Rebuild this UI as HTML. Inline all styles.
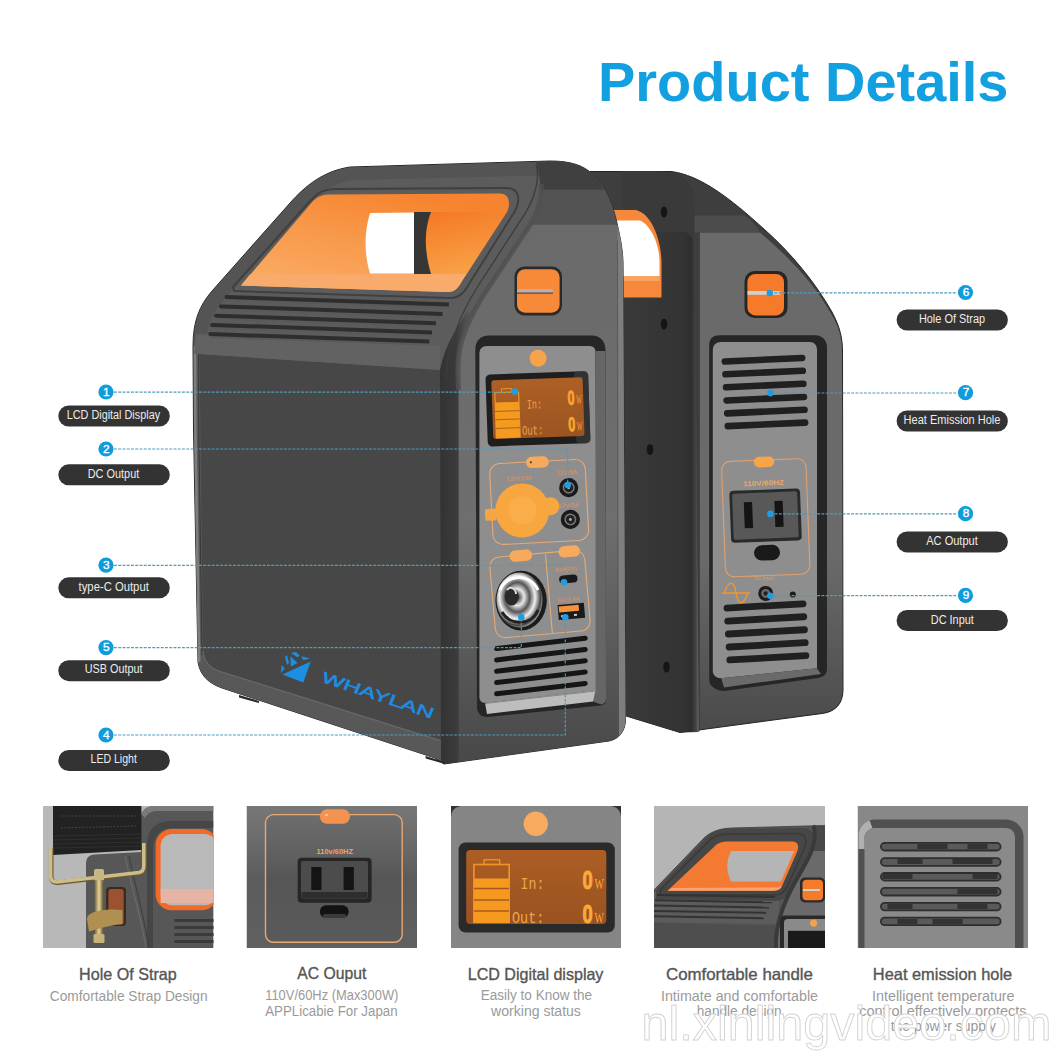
<!DOCTYPE html>
<html><head><meta charset="utf-8">
<style>
html,body{margin:0;padding:0;background:#fff;width:1060px;height:1060px;overflow:hidden}
svg{display:block;position:absolute;left:0;top:0}
text{font-family:"Liberation Sans",sans-serif}
</style></head>
<body>
<svg width="1060" height="1060" viewBox="0 0 1060 1060">
<rect width="1060" height="1060" fill="#fff"/>
<!-- TITLE -->
<text x="598" y="101.4" font-size="56" font-weight="bold" fill="#12a0e0" textLength="410.5" lengthAdjust="spacingAndGlyphs">Product Details</text>

<defs>
  <linearGradient id="og" x1="0" y1="1" x2="0.6" y2="0">
    <stop offset="0" stop-color="#fbb06a"/><stop offset="0.55" stop-color="#f89a4c"/><stop offset="1" stop-color="#f6842f"/>
  </linearGradient>
  <linearGradient id="cyl" x1="0" y1="0" x2="0.3" y2="1">
    <stop offset="0" stop-color="#f47826"/><stop offset="1" stop-color="#f9a044"/>
  </linearGradient>
  <linearGradient id="ffg" x1="0" y1="0" x2="0" y2="1">
    <stop offset="0" stop-color="#6a6a6a"/><stop offset="0.55" stop-color="#6e6e6e"/><stop offset="1" stop-color="#484848"/>
  </linearGradient>
  <linearGradient id="bfg" x1="0" y1="0" x2="0" y2="1">
    <stop offset="0" stop-color="#6a6a6a"/><stop offset="0.65" stop-color="#6a6a6a"/><stop offset="1" stop-color="#4a4a4a"/>
  </linearGradient>
  <linearGradient id="corner" x1="0" y1="0" x2="1" y2="0">
    <stop offset="0" stop-color="#333"/><stop offset="0.45" stop-color="#3a3a3a"/><stop offset="1" stop-color="#626262"/>
  </linearGradient>
  <linearGradient id="bcorner" x1="0" y1="0" x2="1" y2="0">
    <stop offset="0" stop-color="#3a3a3a"/><stop offset="0.8" stop-color="#333"/><stop offset="0.9" stop-color="#2e2e2e"/><stop offset="0.96" stop-color="#444"/><stop offset="1" stop-color="#6a6a6a"/>
  </linearGradient>
  <linearGradient id="lcdg" x1="0" y1="0" x2="0" y2="1">
    <stop offset="0" stop-color="#ad6026"/><stop offset="1" stop-color="#9c5420"/>
  </linearGradient>
  <radialGradient id="chrome" cx="0.45" cy="0.45" r="0.6">
    <stop offset="0" stop-color="#222"/><stop offset="0.25" stop-color="#e8e8e8"/><stop offset="0.45" stop-color="#555"/><stop offset="0.65" stop-color="#f0f0f0"/><stop offset="0.85" stop-color="#444"/><stop offset="1" stop-color="#cfcfcf"/>
  </radialGradient>
</defs>

<!-- ============ BACK UNIT ============ -->
<g id="back">
  <path d="M575,171.5 L671,171.5 C700,175 730,198 765,230 C790,252 815,282 832,312 C840,327 842.5,338 842.5,352 L843,690 C843,704 835,712 822,713.5 L680,732.5 L626,716 L575,716 Z" fill="#3e3e3e" stroke="#262626" stroke-width="1"/>
  <!-- front face -->
  <path d="M699,232.5 L760,232.5 C790,258 815,285 830,312 C839,326 842,338 842,352 L842.5,690 C842.5,703 835,711 822,712.5 L682,731.5 L699,727 Z" fill="url(#bfg)"/>
  <path d="M694,215.5 L745,215.5 C752,221 756,226 760,232.5 L694,232.5 Z" fill="#4c4c4c"/>
  <!-- side face -->
  <path d="M622,171.5 L660,171.5 C676,172 690,178 694,196 L699,732 L680,732.5 L626,716 L622,716 Z" fill="url(#bcorner)"/>
  <path d="M622,171.5 L660,171.5 C676,172 690,178 694,196 L694.5,240 L686,232 L622,232 Z" fill="#3a3a3a"/>
  <line x1="699.3" y1="232" x2="699.3" y2="731" stroke="#3a3a3a" stroke-width="1"/>
  <!-- handle visible through side -->
  <path d="M612,210 L636,210 C652,214 661,240 661.5,262 L661.5,297.5 L612,297.5 Z" fill="#f5883a"/>
  <path d="M612,220.5 L640,220.5 C652,226 659.5,246 659.5,262 L659.5,276 L612,276 Z" fill="#ffffff"/>
  <path d="M612,276 L659.5,276 L659.5,281 L612,281 Z" fill="#f9a45e"/>
  <g fill="#151515">
    <ellipse cx="664" cy="212" rx="3.3" ry="5.5"/>
    <ellipse cx="664" cy="324" rx="3.3" ry="5.5"/>
    <ellipse cx="650" cy="449.5" rx="3.3" ry="5.5"/>
    <ellipse cx="666.5" cy="667" rx="3.3" ry="5.5"/>
  </g>
  <!-- strap hole -->
  <rect x="744.5" y="271" width="43" height="47" rx="10" fill="#262626"/>
  <rect x="747.4" y="274" width="36.6" height="41.4" rx="8" fill="#f57a2a"/>
  <rect x="747.5" y="291" width="33" height="3.8" fill="#d0d0d0"/>
  <!-- panel frame -->
  <path d="M709.2,345 C709.2,339 713,335.3 719,335.3 L815,335.3 C822,335.3 827,340 827,348 L827,668 C827,674 824,677 818,678 L724,691 C716,691 709.2,686 709.2,680 Z" fill="#262626"/>
  <path d="M712.8,350 C712.8,345 716,342 721,342 L810,342 C814,342 817,345 817,350 L817,668.3 L721.2,678.2 C716,678.2 712.8,675 712.8,671 Z" fill="#8e8e8e"/>
  <path d="M721.2,678.2 L817,668.3 L821,674 L724,687.4 Z" fill="#6a6a6a"/>
  <!-- vents top -->
  <g fill="#202020" transform="rotate(-2.6 765 392)">
    <rect x="723" y="356.4" width="84" height="6.6" rx="3.3"/>
    <rect x="723" y="369.2" width="84" height="6.6" rx="3.3"/>
    <rect x="723" y="382.2" width="84" height="6.6" rx="3.3"/>
    <rect x="723" y="395.4" width="84" height="6.6" rx="3.3"/>
    <rect x="723" y="408.3" width="84" height="6.6" rx="3.3"/>
    <rect x="723" y="421.1" width="84" height="6.6" rx="3.3"/>
  </g>
  <!-- AC section -->
  <g transform="rotate(-2.2 766 518)">
  <rect x="723.5" y="460" width="84.5" height="115.5" rx="9" fill="none" stroke="#e0a070" stroke-width="1.1"/>
  <rect x="756" y="456.6" width="20.3" height="10.6" rx="5.3" fill="#f8a448"/>
  <text x="744.4" y="485.5" font-size="7" font-weight="bold" fill="#e8a868" textLength="41" lengthAdjust="spacingAndGlyphs">110V/60HZ</text>
  <rect x="730.3" y="489.6" width="70.7" height="52" rx="4" fill="#2a2a2a"/>
  <rect x="733" y="492.5" width="65" height="46" rx="2" fill="#585858"/>
  <rect x="744.4" y="501.4" width="8.3" height="26" fill="#141414"/>
  <rect x="775" y="501.4" width="8.3" height="26" fill="#141414"/>
  <rect x="752.7" y="545" width="26" height="15.4" rx="7.7" fill="#1a1a1a"/>
  </g>
  <text x="753.9" y="580" font-size="5" fill="#e09a60">DC input</text>
  <path d="M724,594 C728,580 734,580 736,593 C738,606 744,606 748,592 M722,593 L750,593" fill="none" stroke="#f0962e" stroke-width="1.5"/>
  <circle cx="765.7" cy="593.4" r="7.5" fill="#1c1c1c"/>
  <circle cx="765.7" cy="593.4" r="4.5" fill="#6a6a6a"/>
  <circle cx="765.7" cy="593.4" r="2.2" fill="#222"/>
  <circle cx="792.8" cy="594.6" r="3" fill="#1c1c1c"/>
  <g fill="#202020" transform="rotate(-3.2 766 633)">
    <rect x="725" y="602.5" width="83" height="6.8" rx="3.4"/>
    <rect x="725" y="615.5" width="83" height="6.8" rx="3.4"/>
    <rect x="725" y="628.5" width="83" height="6.8" rx="3.4"/>
    <rect x="725" y="641.5" width="83" height="6.8" rx="3.4"/>
    <rect x="725" y="654.5" width="83" height="6.8" rx="3.4"/>
  </g>
</g>

<!-- ============ FRONT UNIT ============ -->
<g id="front">
  <!-- silhouette -->
  <path d="M198,662 L193.5,430 L193,346 C193,322 199,306 212,291 L290,203 C306,185 324,171 350,167 L550,161 C570,161 583,165 593,174.5 C603,184 611,198 616,219 C620,236 622.5,248 623,262 L625.5,719 C625.5,731 619,739 609,741 L444,764 L435,758 L222,688 C208,683 200,675 198,662 Z" fill="#5c5c5c" stroke="#2a2a2a" stroke-width="1"/>
  <!-- chamfer outer band (slightly darker) -->
  <path d="M193.5,346 C193.5,322 199.5,306 212.5,291.5 L290.5,203.5 C306,186 324,172 350,167.5 L550,161.5 C560,161.5 566,162 572,164 L560,175 L352,180 C330,184 318,194 302,212 L222,302 C210,316 206,330 206,346 Z" fill="#545454"/>
  <!-- side rim + lower panel -->
  <path d="M193.5,354 L440,370 L441,760 L435,758 L222,688 C208,683 200,675 198,662 Z" fill="#585858"/>
  <path d="M199.5,354 L440,370 L442.8,740.6 L220,670.7 C210,667 204,661 203,650 Z" fill="#474747"/>
  <path d="M195,346 L195.3,430 L199.2,662" fill="none" stroke="#7e7e7e" stroke-width="2.6"/>
  <path d="M198.6,350 L198.8,430 L202,655" fill="none" stroke="#383838" stroke-width="1"/>
  <path d="M203,651 C204,662 210,668 220,671.5 L442.8,741.5" fill="none" stroke="#6a6a6a" stroke-width="1"/>
  <path d="M196,334 L440,346 L440,370 L199.5,354 L194,354 Z" fill="#626262"/>
  <!-- side vents -->
  <g fill="#5a5a5a">
    <path d="M226.5,299 L449,306.5 L449,308.5 L226.5,301Z"/>
    <path d="M220.8,308.4 L442.5,315.9 L442.5,317.9 L220.8,310.4Z"/>
    <path d="M216,317.7 L436,325.2 L436,327.2 L216,319.7Z"/>
    <path d="M212,326.9 L432,334.4 L432,336.4 L212,328.9Z"/>
    <path d="M210.2,336.1 L429.3,343.6 L429.3,345.6 L210.2,338.1Z"/>
  </g>
  <g fill="#2e2e2e">
    <path d="M226.5,295 L449,302.5 L449,306.5 L226.5,299 A2,2 0 0 1 226.5,295Z"/>
    <path d="M220.8,304.4 L442.5,311.9 L442.5,315.9 L220.8,308.4 A2,2 0 0 1 220.8,304.4Z"/>
    <path d="M216,313.7 L436,321.2 L436,325.2 L216,317.7 A2,2 0 0 1 216,313.7Z"/>
    <path d="M212,322.9 L432,330.4 L432,334.4 L212,326.9 A2,2 0 0 1 212,322.9Z"/>
    <path d="M210.2,332.1 L429.3,339.6 L429.3,343.6 L210.2,336.1 A2,2 0 0 1 210.2,332.1Z"/>
  </g>
  <!-- front face top dark region -->
  <path d="M536,161.3 L550,161 C570,161 583,165 593,174.5 C603,184 611,198 616,219 L617,225 L530,225 C538,212 542,198 541,184 Z" fill="#535353"/>
  <path d="M536,161.3 L550,161 C570,161 583,165 593,174.5 C598,179 600,183 604,189.6 L541,189.6 C540,178 538,170 536,161.3 Z" fill="#404040"/>
  <!-- front face -->
  <path d="M530,224.7 L617.5,224.7 C620,236 622.5,248 623,262 L625.5,719 C625.5,731 619,739 609,741 L450,763 L448,380 C452,360 460,335 475,310 Z" fill="url(#ffg)"/>
  <!-- corner between side and front -->
  <path d="M440,370 C444,350 452,335 466,313 L475,310 C462,333 455,355 458.6,385 L459,762 L444,764 L441,760 Z" fill="url(#corner)"/>
  <!-- ridge lines -->
  <path d="M541,184 C542,198 538,212 530,225 L486.6,290.4 C470,316 462,334 459.4,352 C457,366 458,380 458.6,390" fill="none" stroke="#505050" stroke-width="5" opacity="0.8"/>
  <path d="M536,165 C540,176 536,195 526,212 L478,286 C464,308 455,328 450,350 C447,362 446,372 446,380" fill="none" stroke="#3c3c3c" stroke-width="1.3"/>
  <!-- right rim -->
  <path d="M617.5,226 C620.5,238 622.5,250 623,262 L625.5,719 C625.5,726 623,732 619,736 L618,262 Z" fill="#7e7e7e"/>
  <line x1="617.5" y1="240" x2="617.8" y2="736" stroke="#555" stroke-width="0.8"/>
  <!-- handle bezel inner ridge -->
  <path d="M233,287 L311,200 C317,193 324,189 334,189 L506,188 C519,188 521,199 515,211 L469,284 C464,293 459,298 450,298 L234,291 Z" fill="none" stroke="#404040" stroke-width="2"/>
  <!-- handle hole orange -->
  <path d="M241,285.5 L313,201 C318,196 323,194.4 330,194.4 L500,193.5 C509,193.5 511,203 507,212 L462,281 C458,288 455,292 448,292 Z" fill="url(#og)"/>
  <!-- white window -->
  <path d="M370,213 L415,212.5 L415,273.5 L370,273.5 C364,253 364,233 370,213 Z" fill="#ffffff"/>
  <path d="M414,212 L433,212 C426,232 426,254 433,274 L414,274 Z" fill="#363636"/>
  <path d="M431,212 L506,212 L466.6,274 L431,274 C424,250 424,230 431,212Z" fill="url(#cyl)"/>
  <path d="M250,274.5 L466.6,274 L462,281 C458,288 455,292 448,292 L241,285.5 Z" fill="#f9ab6c"/>
  <!-- strap hole -->
  <rect x="514.5" y="266.5" width="47.5" height="49" rx="10" fill="#2a2a2a"/>
  <rect x="517" y="269.2" width="42.6" height="43.5" rx="8" fill="#f68a38"/>
  <rect x="517" y="289" width="36" height="4.5" rx="2" fill="#b8b0b0"/>
  <rect x="517" y="292.5" width="36" height="1.2" fill="#6a3a30"/>
  <!-- panel frame -->
  <path d="M475.3,350 C475.3,341 480,335.5 489,335.5 L592,335.5 C600,335.5 605.5,341 605.5,350 L606,700 C606,703 604,705 601,705.5 L487,717 C481,717 477,713 477,707 Z" fill="#262626"/>
  <path d="M596,351 L605.5,351 L606,699 C606,702 604,704 601,704.5 L593,701.6 Z" fill="#666"/>
  <path d="M479.4,354 C479.4,349 482,346 487,346 L589,346 C593,346 595.5,348 595.5,352 L595.5,690.3 L485,702.8 C481,703 479.4,700 479.4,697 Z" fill="#8e8e8e"/>
  <path d="M485,702.8 L595.5,690.3 L593,701.6 L487,714 Z" fill="#bdbdbd"/>
  <path d="M485,703.5 L595.5,691" fill="none" stroke="#777" stroke-width="0.8"/>
  <circle cx="538.1" cy="358.3" r="8.5" fill="#f8a24c"/>
  <!-- LCD -->
  <g transform="rotate(-2 538 409)">
    <rect x="486.6" y="372.8" width="102.7" height="72" rx="4.5" fill="#1e1e1e"/>
    <rect x="575" y="372.8" width="14.3" height="72" rx="4" fill="#3a3a3a" opacity="0.7"/>
    <rect x="492.3" y="378.8" width="91.3" height="58.7" rx="2.5" fill="url(#lcdg)"/>
    <rect x="495.4" y="391.3" width="23.8" height="45.1" fill="none" stroke="#f29a2a" stroke-width="1.1"/>
    <rect x="502.1" y="387.6" width="10.4" height="3.7" fill="none" stroke="#f29a2a" stroke-width="0.9"/>
    <rect x="495.4" y="401.1" width="23.8" height="35.3" fill="#f49a1e"/>
    <g stroke="#a85a20" stroke-width="0.9"><line x1="495" y1="410" x2="519.6" y2="410"/><line x1="495" y1="418.3" x2="519.6" y2="418.3"/><line x1="495" y1="427" x2="519.6" y2="427"/></g>
    <text x="527" y="408.4" font-size="13" fill="#eda24a" textLength="15.1" lengthAdjust="spacingAndGlyphs" style="font-family:'Liberation Mono'">In:</text>
    <text x="521.3" y="434.3" font-size="13" fill="#eda24a" textLength="21.3" lengthAdjust="spacingAndGlyphs" style="font-family:'Liberation Mono'">Out:</text>
    <text x="567.8" y="405.8" font-size="20" font-weight="bold" fill="#f8a634" stroke="#f8a634" stroke-width="0.9" textLength="7" lengthAdjust="spacingAndGlyphs">0</text>
    <text x="576.3" y="405.3" font-size="13" fill="#f8a634" textLength="5.7" lengthAdjust="spacingAndGlyphs" style="font-family:'Liberation Serif'">W</text>
    <text x="567.8" y="432.3" font-size="20" font-weight="bold" fill="#f8a634" stroke="#f8a634" stroke-width="0.9" textLength="7" lengthAdjust="spacingAndGlyphs">0</text>
    <text x="576.3" y="431.8" font-size="13" fill="#f8a634" textLength="5.7" lengthAdjust="spacingAndGlyphs" style="font-family:'Liberation Serif'">W</text>
  </g>
  <!-- DC section -->
  <g transform="rotate(-3 539 502)">
    <rect x="491.3" y="461.5" width="95.7" height="81" rx="10" fill="none" stroke="#e6aa78" stroke-width="1.1"/>
    <rect x="528.1" y="456.5" width="22.7" height="11.3" rx="5.6" fill="#f8aa5c"/>
    <circle cx="533" cy="462" r="1" fill="#333"/>
    <text x="507.7" y="479.5" font-size="6" fill="#e6905a" textLength="25.5" lengthAdjust="spacingAndGlyphs">12V/10A</text>
    <text x="558" y="476" font-size="6" fill="#e6905a" textLength="20.5" lengthAdjust="spacingAndGlyphs">12V/3A</text>
    <text x="558" y="509" font-size="6" fill="#e6905a" textLength="20.5" lengthAdjust="spacingAndGlyphs">12V/3A</text>
    <rect x="484.5" y="506.2" width="11.3" height="11.9" rx="1.5" fill="#f6a444"/>
    <circle cx="550.2" cy="506.8" r="9" fill="#f8a63e"/>
    <circle cx="521.9" cy="509.6" r="27" fill="#f8a63e"/>
    <circle cx="521.9" cy="509.6" r="14.2" fill="#faae4a"/>
    <circle cx="569.4" cy="489.2" r="9.6" fill="#1a1a1a"/>
    <circle cx="569.4" cy="489.2" r="6" fill="#777"/>
    <circle cx="569.4" cy="489.2" r="4.5" fill="#222"/>
    <circle cx="569.4" cy="489.2" r="1.5" fill="#aaa"/>
    <circle cx="569.4" cy="521" r="9.6" fill="#1a1a1a"/>
    <circle cx="569.4" cy="521" r="6" fill="#777"/>
    <circle cx="569.4" cy="521" r="4.5" fill="#222"/>
    <circle cx="569.4" cy="521" r="1.5" fill="#aaa"/>
  </g>
  <!-- LED/USB section -->
  <g transform="rotate(-5 540 594)">
    <rect x="492.4" y="553.5" width="95.2" height="81" rx="10" fill="none" stroke="#e6aa78" stroke-width="1.1"/>
    <line x1="548.9" y1="555" x2="548.9" y2="634" stroke="#e6aa78" stroke-width="1.1"/>
    <rect x="512.9" y="548.5" width="22.7" height="11.3" rx="5.6" fill="#f8aa5c"/>
    <rect x="562" y="548.5" width="21.7" height="11.3" rx="5.6" fill="#f8aa5c"/>
    <text x="557" y="573.5" font-size="5.5" fill="#e6905a" textLength="22" lengthAdjust="spacingAndGlyphs">60W(PD)</text>
    <rect x="560.3" y="577.5" width="18.4" height="8" rx="4" fill="#1a1a1a"/>
    <text x="557" y="604" font-size="5.5" fill="#e6905a" textLength="22" lengthAdjust="spacingAndGlyphs">5V/2.4A</text>
    <rect x="556.5" y="606.5" width="26.4" height="15" fill="#1a1a1a"/>
    <rect x="557.5" y="608" width="20" height="6" fill="#f4923e"/>
    <rect x="559" y="617" width="3" height="2" fill="#ccc"/><rect x="572" y="617" width="3" height="2" fill="#ccc"/>
  </g>
  <g>
    <ellipse cx="521.1" cy="600.6" rx="25.7" ry="29.8" fill="#1c1c1c"/>
    <ellipse cx="519.5" cy="600" rx="23" ry="27.5" fill="url(#chrome)"/>
    <path d="M500,590 C505,575 530,572 538,590" fill="none" stroke="#fff" stroke-width="3"/>
    <path d="M502,612 C510,626 532,626 538,610" fill="none" stroke="#222" stroke-width="3"/>
    <ellipse cx="511.7" cy="596.6" rx="7" ry="9" fill="#2a2a2a"/>
    <path d="M507,590 C510,586 516,588 516,594" fill="none" stroke="#ddd" stroke-width="2"/>
  </g>
  <!-- front vents -->
  <g stroke="#161616" stroke-width="5" stroke-linecap="round">
    <line x1="496.6" y1="648.6" x2="585.2" y2="638.2"/>
    <line x1="496.6" y1="659.9" x2="585.2" y2="649.5"/>
    <line x1="496.6" y1="671.2" x2="585.2" y2="660.8"/>
    <line x1="496.6" y1="682.5" x2="585.2" y2="672.1"/>
    <line x1="496.6" y1="693.8" x2="585.2" y2="683.4"/>
  </g>
  <!-- foot -->
  <path d="M239,695 L259,701 L259,703 L239,697.5Z" fill="#2a2a2a"/><path d="M425.6,756 L445,762 L445,764 L425.6,758.5Z" fill="#2a2a2a"/>
  <!-- logo -->
  <g fill="#1e8ee0">
    <path d="M282.4,674.4 L310.7,661.4 L303.3,682.4 Z"/>
    <path d="M290.3,656.3 L297.6,663.1 L290.8,666.5 Z"/>
    <path d="M301,656.3 L310,658.6 L303.3,660.3 Z"/>
    <path d="M281.8,664.8 L284.6,668.8 L280.7,673.3 Z"/>
    <path d="M285,657 L287,655 L289,663 L287,665Z"/>
    <path d="M291,653 L296,652 L300,656 L297,657Z"/>
    <text transform="translate(320.5,681.5) skewY(18.5) skewX(-20)" font-size="16" stroke="#1e8ee0" stroke-width="0.5" textLength="111" lengthAdjust="spacingAndGlyphs">WHAYLAN</text>
  </g>
</g>

<!-- ============ CALLOUTS ============ -->
<g stroke="#4f9cbc" stroke-width="1.15" stroke-dasharray="2.9,1.35" fill="none">
  <path d="M114,392.1 L515,392.1"/>
  <path d="M114,449 L567.7,449 L567.7,485"/>
  <path d="M114,565.3 L563,565.3"/>
  <path d="M114,647.6 L521.3,647.6 L521.3,617"/>
  <path d="M114,735 L565.3,735 L565.3,617"/>
  <path d="M770,292.8 L957,292.8"/>
  <path d="M770.5,393 L957,393"/>
  <path d="M770.4,513.8 L957,513.8"/>
  <path d="M770.4,595.6 L957,595.6"/>
</g>
<g fill="#1e9ee0">
  <circle cx="515" cy="391.5" r="3.3"/>
  <circle cx="567.7" cy="485" r="3.3"/>
  <circle cx="564" cy="582.3" r="3.3"/>
  <circle cx="521.3" cy="617.2" r="3.3"/>
  <circle cx="565.3" cy="617.2" r="3.3"/>
  <circle cx="769.8" cy="293" r="3.3"/>
  <circle cx="770.5" cy="393.1" r="3.3"/>
  <circle cx="770.4" cy="513.9" r="3.3"/>
  <circle cx="770.4" cy="595.8" r="3.3"/>
</g>
<g id="nums">
  <g fill="#0f9cdc">
    <circle cx="106" cy="392" r="7.6"/>
    <circle cx="106" cy="449" r="7.6"/>
    <circle cx="106" cy="565.2" r="7.6"/>
    <circle cx="106" cy="647.6" r="7.6"/>
    <circle cx="106" cy="735" r="7.6"/>
    <circle cx="965.5" cy="292.5" r="7.6"/>
    <circle cx="965.5" cy="392.7" r="7.6"/>
    <circle cx="965.5" cy="513.7" r="7.6"/>
    <circle cx="965.5" cy="595.4" r="7.6"/>
  </g>
  <g fill="#fff" stroke="#fff" stroke-width="0.35" font-size="11.8" text-anchor="middle">
    <text x="106.4" y="395.6">1</text>
    <text x="106.4" y="452.6">2</text>
    <text x="106.4" y="568.8">3</text>
    <text x="106.4" y="651.2">5</text>
    <text x="106.4" y="738.6">4</text>
    <text x="966" y="295.9">6</text>
    <text x="966" y="396.3">7</text>
    <text x="966" y="517.3">8</text>
    <text x="966" y="599.0">9</text>
  </g>
</g>
<g id="pills">
  <g fill="#333333">
    <rect x="58.3" y="405.5" width="111.5" height="21" rx="10.5"/>
    <rect x="58.3" y="464.3" width="111.5" height="21" rx="10.5"/>
    <rect x="58.3" y="577.3" width="111.5" height="21" rx="10.5"/>
    <rect x="58.3" y="660.2" width="111.5" height="21" rx="10.5"/>
    <rect x="58.3" y="750" width="111.5" height="21" rx="10.5"/>
    <rect x="896.6" y="309.5" width="111.3" height="21" rx="10.5"/>
    <rect x="896.6" y="410.5" width="111.3" height="21" rx="10.5"/>
    <rect x="896.6" y="531.4" width="111.3" height="21" rx="10.5"/>
    <rect x="896.6" y="610" width="111.3" height="21" rx="10.5"/>
  </g>
  <g fill="#ececec" font-size="12" text-anchor="middle" lengthAdjust="spacingAndGlyphs">
    <text x="113.4" y="418.8" textLength="93.4" lengthAdjust="spacingAndGlyphs">LCD Digital Display</text>
    <text x="113.5" y="477.7" textLength="51.5" lengthAdjust="spacingAndGlyphs">DC Output</text>
    <text x="113.7" y="590.7" textLength="70.2" lengthAdjust="spacingAndGlyphs">type-C Output</text>
    <text x="113.7" y="673.4" textLength="57.8" lengthAdjust="spacingAndGlyphs">USB Output</text>
    <text x="113.7" y="763.2" textLength="46.4" lengthAdjust="spacingAndGlyphs">LED Light</text>
    <text x="952" y="323.2" textLength="66.2" lengthAdjust="spacingAndGlyphs">Hole Of Strap</text>
    <text x="952" y="424" textLength="96.8" lengthAdjust="spacingAndGlyphs">Heat Emission Hole</text>
    <text x="952" y="545.1" textLength="51.5" lengthAdjust="spacingAndGlyphs">AC Output</text>
    <text x="952.3" y="623.7" textLength="43" lengthAdjust="spacingAndGlyphs">DC Input</text>
  </g>
</g>

<!-- ============ THUMBNAILS ============ -->
<g id="thumbs">
  <!-- 1 -->
  <svg x="43" y="806" width="170.5" height="142" viewBox="0 0 170.5 142">
    <defs>
      <linearGradient id="brass" x1="0" y1="0" x2="1" y2="0"><stop offset="0" stop-color="#7a6a3a"/><stop offset="0.5" stop-color="#e4d49c"/><stop offset="1" stop-color="#6a5a32"/></linearGradient>
    </defs>
    <rect width="170.5" height="142" fill="#b8b8b8"/>
    <path d="M43,142 L43,58 C43,52 46,48.5 52,48.5 L98,46 L98,10 C100,4 104,0 112,0 L170.5,0 L170.5,142 Z" fill="#575757"/>
    <path d="M98,8 C100,3 104,0 112,0 L170.5,0 L170.5,5 L114,5 C108,5 104,8 102,12 Z" fill="#7a7a7a"/>
    <path d="M104,142 L104,40 C104,24 112,15 128,15 L170.5,15 L170.5,22 L130,22 C117,22 110,30 110,44 L110,142Z" fill="#464646"/>
    <path d="M82,50 C88,80 98,110 103,142" fill="none" stroke="#6a6a6a" stroke-width="1.2"/>
    <path d="M86,50 C92,80 101,110 106,142" fill="none" stroke="#404040" stroke-width="1.2"/>
    <rect x="112.6" y="23" width="62" height="81.3" rx="16" fill="#f26a2a"/>
    <rect x="117.6" y="28" width="56" height="71.3" rx="12" fill="#b9b9b9"/>
    <rect x="117.6" y="83" width="56" height="14" fill="#e6b4a4"/>
    <g fill="#3a3a3a"><rect x="131.4" y="113" width="40" height="3"/><rect x="131.4" y="120" width="40" height="3"/><rect x="131.4" y="127" width="40" height="3"/><rect x="131.4" y="134" width="40" height="3"/></g>
    <rect x="63" y="81" width="20" height="39" rx="4" fill="#3a2a22"/>
    <rect x="65.4" y="83" width="15.3" height="35.4" rx="3" fill="#9a5230"/>
    <path d="M10,0 L98.4,0 L98.4,44 L10,48.9 Z" fill="#222"/>
    <g stroke="#333" stroke-width="0.8"><line x1="10" y1="30" x2="98" y2="28"/><line x1="10" y1="34" x2="98" y2="32"/><line x1="10" y1="38" x2="98" y2="36"/><line x1="10" y1="42" x2="98" y2="40"/></g>
    <path d="M18,10 L93,10 M18,22 L93,20" stroke="#444" stroke-width="1" stroke-dasharray="2,1.5"/>
    <path d="M7.6,40.6 L7.6,70 C7.6,74 10,76 14,76 L96,66.5 C99,66 100.8,64 100.8,60 L100.8,37" fill="none" stroke="#6a5a30" stroke-width="4.6" transform="translate(0.6,0.8)"/>
    <path d="M7.6,40.6 L7.6,70 C7.6,74 10,76 14,76 L96,66.5 C99,66 100.8,64 100.8,60 L100.8,37" fill="none" stroke="#cdbd88" stroke-width="3.6"/>
    <rect x="51" y="63" width="10" height="12" rx="2" fill="#c8b880"/>
    <rect x="51.8" y="74" width="8.4" height="61" fill="url(#brass)"/>
    <path d="M44,113 C44,106 60,102 79.5,104 L79.5,118 C66,119 52,124 46,125.5Z" fill="#b09050"/>
    <rect x="50.5" y="128" width="11" height="9" rx="1.5" fill="#c8b47a"/>
  </svg>
  <!-- 2 -->
  <svg x="246.5" y="806" width="170.5" height="142" viewBox="0 0 170.5 142">
    <defs><linearGradient id="t2g" x1="0" y1="0" x2="0" y2="1"><stop offset="0" stop-color="#777"/><stop offset="0.35" stop-color="#666"/><stop offset="0.5" stop-color="#5c5c5c"/><stop offset="1" stop-color="#606060"/></linearGradient></defs>
    <rect width="170.5" height="142" fill="url(#t2g)"/>
    <rect x="19" y="8.6" width="136.7" height="127.7" rx="8" fill="#000" fill-opacity="0.06" stroke="#e8a874" stroke-width="1.4"/>
    <rect x="73.3" y="3.3" width="30.2" height="14.5" rx="7.2" fill="#f49250"/>
    <circle cx="80" cy="9" r="1.2" fill="#ffd0b0"/>
    <text x="70" y="47.5" font-size="7.6" font-weight="bold" fill="#eea468" textLength="36.5" lengthAdjust="spacingAndGlyphs">110v/60HZ</text>
    <rect x="51.2" y="51.7" width="73.9" height="45" rx="4" fill="#262626"/>
    <rect x="54.5" y="55" width="67" height="37.5" rx="2" fill="#4c4c4c"/>
    <rect x="55" y="86" width="66" height="6" fill="#2e2e2e"/>
    <rect x="64.8" y="61" width="10.2" height="23" fill="#141414"/>
    <rect x="97.1" y="61" width="10.2" height="23" fill="#141414"/>
    <rect x="73.3" y="99.3" width="28.9" height="12.7" rx="6.3" fill="#121212"/>
    <rect x="76" y="108" width="24" height="6" rx="3" fill="#555" opacity="0.6"/>
  </svg>
  <!-- 3 -->
  <svg x="451" y="806" width="170" height="142" viewBox="0 0 170 142">
    <defs><linearGradient id="t3lcd" x1="0" y1="0" x2="0" y2="1"><stop offset="0" stop-color="#ac5e24"/><stop offset="1" stop-color="#9a5220"/></linearGradient></defs>
    <rect width="170" height="142" fill="#858585"/>
    <path d="M0,0 L10,0 C4,1 1,4 0,10Z M170,0 L160,0 C166,1 169,4 170,10Z" fill="#333"/>
    <circle cx="84.8" cy="17.8" r="12.2" fill="#f8aa5e"/>
    <rect x="7.6" y="36.5" width="156.2" height="90" rx="7" fill="#2a2a2a"/>
    <rect x="15.2" y="44" width="140.1" height="74" rx="4" fill="url(#t3lcd)"/>
    <rect x="22.9" y="58.5" width="35.3" height="57.8" fill="none" stroke="#f29424" stroke-width="1.6"/>
    <rect x="33" y="53.8" width="15.7" height="4.7" fill="none" stroke="#f29424" stroke-width="1.3"/>
    <rect x="22.9" y="72.5" width="35.3" height="43.8" fill="#f59a1e"/>
    <g stroke="#a8581e" stroke-width="1.3"><line x1="23" y1="82.5" x2="58" y2="82.5"/><line x1="23" y1="94" x2="58" y2="94"/><line x1="23" y1="105" x2="58" y2="105"/></g>
    <text x="69.6" y="83" font-size="17" fill="#eea650" textLength="23.7" lengthAdjust="spacingAndGlyphs" style="font-family:'Liberation Mono'">In:</text>
    <text x="61" y="116.6" font-size="17" fill="#eea650" textLength="32.3" lengthAdjust="spacingAndGlyphs" style="font-family:'Liberation Mono'">Out:</text>
    <text x="131.5" y="83" font-size="25" font-weight="bold" fill="#f8aa3a" stroke="#f8aa3a" stroke-width="1" textLength="10.2" lengthAdjust="spacingAndGlyphs">0</text>
    <text x="143.4" y="83" font-size="14" fill="#f8aa3a" textLength="9.4" lengthAdjust="spacingAndGlyphs" style="font-family:'Liberation Serif'">W</text>
    <text x="131.5" y="116.6" font-size="25" font-weight="bold" fill="#f8aa3a" stroke="#f8aa3a" stroke-width="1" textLength="10.2" lengthAdjust="spacingAndGlyphs">0</text>
    <text x="143.4" y="116.6" font-size="14" fill="#f8aa3a" textLength="9.4" lengthAdjust="spacingAndGlyphs" style="font-family:'Liberation Serif'">W</text>
  </svg>
  <!-- 4 -->
  <svg x="654" y="806" width="171" height="142" viewBox="0 0 171 142">
    <rect width="171" height="142" fill="#b5b5b5"/>
    <path d="M0,142 L0,84 L50,32 C58,25 66,22.5 78,22 L171,19.5 L171,142 Z" fill="#555" stroke="#3a3a3a" stroke-width="0.8"/>
    <path d="M0,116.5 L0,86 L125,88 L125,118Z" fill="#5c5c5c"/>
    <path d="M0,116.5 L171,121 L171,142 L0,142Z" fill="#4e4e4e"/>
    <path d="M2,84 L54,30 C60,24.5 66,23 76,23 L150,22 C160,22 162,32 157,44 L138,84 C133,93 127,95 118,95 L2,93Z" fill="#474747"/>
    <path d="M7,83 L57,33 C62,29 67,28 75,28 L143,27.5 C152,27.5 154,35 150,43 L133,81 C129,88 125,89 118,89 L6,89Z" fill="none" stroke="#3a3a3a" stroke-width="1.6"/>
    <path d="M13.5,84.8 L61,40 C64,37 68,35.6 75,35.6 L138,35.6 C144,35.6 145.5,40 143,46 L128,80 C126,84 123,84.8 118,84.8 Z" fill="#f47a34"/>
    <path d="M18,82 L124,81.5 L128,80 C126,84 123,84.8 118,84.8 L13.5,84.8Z" fill="#f9a470"/>
    <path d="M77,45 L140,45 L127,75.5 L77,75.5 C72,65 72,55 77,45Z" fill="#b5b5b5"/>
    <g fill="#333">
      <path d="M3,88 L121,90 L121,92 L3,90Z"/><path d="M1,93.3 L118,95.3 L118,97.3 L1,95.3Z"/><path d="M0,98.6 L115,100.6 L115,102.6 L0,100.6Z"/><path d="M0,103.9 L112,105.9 L112,107.9 L0,105.9Z"/><path d="M0,109.2 L110,111.2 L110,113.2 L0,111.2Z"/>
    </g>
    <path d="M122,142 C121,120 128,100 140,78 C150,60 158,48 160,36 C161,28 161,22 159,19.8 L171,19.5 L171,142Z" fill="#6a6a6a"/>
    <path d="M159,20 L171,19.5 L171,45 L158,45 C160,36 161,26 159,20Z" fill="#484848"/>
    <path d="M159,19.8 C161,22 161,28 160,36 C158,48 150,60 140,78 C128,100 121,120 122,142" fill="none" stroke="#3a3a3a" stroke-width="4"/>
    <rect x="146" y="71.5" width="25" height="25" rx="5" fill="#2a2a2a"/>
    <rect x="148.5" y="73.8" width="20.5" height="20.4" rx="4" fill="#f47a2c"/>
    <rect x="149" y="83" width="17" height="2" fill="#d0d0d0"/>
    <path d="M126,142 L126,115 C126,111 128,109.5 132,109.5 L171,109.5 L171,142Z" fill="#2a2a2a"/>
    <path d="M130,142 L130,117 C130,114 131.5,113 134,113 L171,113 L171,142Z" fill="#8a8a8a"/>
    <circle cx="159.6" cy="117.1" r="3.6" fill="#f7a04a"/>
    <rect x="134" y="124.8" width="37" height="17.2" fill="#1a1a1a"/>
  </svg>
  <!-- 5 -->
  <svg x="857.5" y="806" width="170.5" height="142" viewBox="0 0 170.5 142">
    <rect width="170.5" height="142" fill="#888"/>
    <path d="M1,142 L1,31 C1,21 8,13.5 18,13.5 L148,13.5 C158,13.5 166,21 166,31 L166,142 Z" fill="#505050"/>
    <path d="M7,142 L7,33 C7,27 11,22 17,22 L148,22 C154,22 157.5,26 157.5,32 L157.5,142 Z" fill="#8a8a8a"/>
    <path d="M1,31 C1,23 5,17 12,14.5 L15,22 C10,24 7,27 7,32 L7,43 L1,43Z" fill="#b0b0b0"/>
    <g fill="#5a5a5a" stroke="#2e2e2e" stroke-width="1.8">
      <rect x="23.4" y="36.9" width="119.7" height="7.6" rx="3.8"/>
      <rect x="23.4" y="52.2" width="119.7" height="7.6" rx="3.8"/>
      <rect x="23.4" y="67" width="119.7" height="7.6" rx="3.8"/>
      <rect x="23.4" y="81.9" width="119.7" height="7.6" rx="3.8"/>
      <rect x="23.4" y="96.8" width="119.7" height="7.6" rx="3.8"/>
      <rect x="23.4" y="111.6" width="119.7" height="7.6" rx="3.8"/>
    </g>
    <g fill="#333">
      <rect x="60" y="38" width="30" height="5"/><rect x="110" y="38" width="20" height="5"/><rect x="40" y="53" width="25" height="5"/><rect x="95" y="53" width="40" height="5"/>
      <rect x="25" y="68" width="30" height="5"/><rect x="115" y="68" width="25" height="5"/><rect x="100" y="83" width="40" height="5"/><rect x="30" y="98" width="25" height="5"/>
      <rect x="100" y="98" width="30" height="5"/><rect x="40" y="113" width="20" height="5"/><rect x="75" y="113" width="30" height="5"/>
    </g>
  </svg>
</g>

<!-- captions -->
<g text-anchor="middle">
  <g font-size="16.5" fill="#555" stroke="#555" stroke-width="0.35">
    <text x="127.9" y="980" textLength="97.8" lengthAdjust="spacingAndGlyphs">Hole Of Strap</text>
    <text x="331.8" y="979.3" textLength="69.0" lengthAdjust="spacingAndGlyphs">AC Ouput</text>
    <text x="535.6" y="979.8" textLength="135.6" lengthAdjust="spacingAndGlyphs">LCD Digital display</text>
    <text x="739.5" y="979.5" textLength="146.9" lengthAdjust="spacingAndGlyphs">Comfortable handle</text>
    <text x="942.5" y="979.5" textLength="139.3" lengthAdjust="spacingAndGlyphs">Heat emission hole</text>
  </g>
  <g font-size="14" fill="#9a9a9a">
    <text x="128.7" y="1000.8" textLength="157.7" lengthAdjust="spacingAndGlyphs">Comfortable Strap Design</text>
    <text x="331.8" y="1000.3" textLength="133.2" lengthAdjust="spacingAndGlyphs">110V/60Hz (Max300W)</text>
    <text x="331.4" y="1015.5" textLength="132.4" lengthAdjust="spacingAndGlyphs">APPLicabie For Japan</text>
    <text x="536.4" y="1000.3" textLength="111.4" lengthAdjust="spacingAndGlyphs">Easily to Know the</text>
    <text x="536.0" y="1015.8" textLength="89.8" lengthAdjust="spacingAndGlyphs">working status</text>
    <text x="739.5" y="1000.6" textLength="157.1" lengthAdjust="spacingAndGlyphs">Intimate and comfortable</text>
    <text x="739.2" y="1016" textLength="84.9" lengthAdjust="spacingAndGlyphs">handle design</text>
    <text x="943.3" y="1000.6" textLength="142.6" lengthAdjust="spacingAndGlyphs">Intelligent temperature</text>
    <text x="942.9" y="1016" textLength="167.3" lengthAdjust="spacingAndGlyphs">control effectively protects</text>
    <text x="943.4" y="1031.3" textLength="105.3" lengthAdjust="spacingAndGlyphs">the power supply</text>
  </g>
</g>
<!-- watermark -->
<text x="641.5" y="1040" font-size="48" fill="#ffffff" stroke="#d2d2d2" stroke-width="0.9" textLength="410" lengthAdjust="spacingAndGlyphs">nl.xinlingvideo.com</text>
</svg>
</body></html>
